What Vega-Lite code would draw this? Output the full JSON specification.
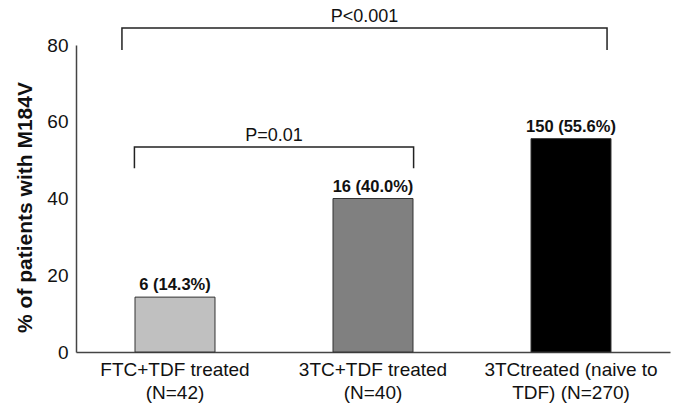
{
  "$schema": "https://vega.github.io/schema/vega-lite/v6.json",
  "width": 594,
  "height": 307,
  "autosize": {"type": "none"},
  "padding": {"left": 76, "top": 45, "right": 4, "bottom": 54},
  "background": "white",
  "config": {
    "font": "Liberation Sans",
    "view": {"stroke": null},
    "axis": {"grid": false, "ticks": false, "domainColor": "#444", "domainWidth": 1.5, "labelColor": "#111", "titleColor": "#111"}
  },
  "datasets": {
    "bars": [
      {"group": "FTC+TDF treated|(N=42)", "pct": 14.3, "label": "6 (14.3%)"},
      {"group": "3TC+TDF treated|(N=40)", "pct": 40.0, "label": "16 (40.0%)"},
      {"group": "3TCtreated (naive to|TDF) (N=270)", "pct": 55.6, "label": "150 (55.6%)"}
    ],
    "brackets": [
      {"bracket": "A", "order": 0, "x": -0.21, "y": 47.9},
      {"bracket": "A", "order": 1, "x": -0.21, "y": 53.4},
      {"bracket": "A", "order": 2, "x": 1.2, "y": 53.4},
      {"bracket": "A", "order": 3, "x": 1.2, "y": 47.9},
      {"bracket": "B", "order": 0, "x": -0.273, "y": 78.7},
      {"bracket": "B", "order": 1, "x": -0.273, "y": 84.4},
      {"bracket": "B", "order": 2, "x": 2.177, "y": 84.4},
      {"bracket": "B", "order": 3, "x": 2.177, "y": 78.7}
    ],
    "pvalues": [
      {"label": "P=0.01", "x": 0.495, "y": 53.4},
      {"label": "P<0.001", "x": 0.952, "y": 84.4}
    ]
  },
  "resolve": {"scale": {"x": "independent"}},
  "layer": [
    {
      "data": {"name": "bars"},
      "encoding": {
        "x": {
          "field": "group", "type": "nominal", "sort": null,
          "scale": {"paddingInner": 0.596, "paddingOuter": 0.298},
          "axis": {"title": null, "labelAngle": 0, "labelFontSize": 19, "labelPadding": 8, "labelLimit": 0, "labelLineHeight": 23, "labelExpr": "split(datum.label, '|')"}
        },
        "y": {
          "field": "pct", "type": "quantitative",
          "scale": {"domain": [0, 80], "nice": false},
          "axis": {"values": [0, 20, 40, 60, 80], "title": "% of patients with M184V", "titleFontSize": 21, "titleFontWeight": "bold", "titlePadding": 11, "titleY": 162, "labelFontSize": 19, "labelPadding": 8}
        }
      },
      "layer": [
        {
          "mark": {"type": "bar", "stroke": "#333", "strokeWidth": 1},
          "encoding": {
            "color": {"field": "group", "type": "nominal", "legend": null,
              "scale": {"domain": ["FTC+TDF treated|(N=42)", "3TC+TDF treated|(N=40)", "3TCtreated (naive to|TDF) (N=270)"], "range": ["#c0c0c0", "#808080", "#000000"]}}
          }
        },
        {
          "mark": {"type": "text", "fontWeight": "bold", "fontSize": 16.5, "baseline": "alphabetic", "dy": -7, "color": "#111"},
          "encoding": {"text": {"field": "label"}}
        }
      ]
    },
    {
      "layer": [
        {
          "data": {"name": "brackets"},
          "mark": {"type": "line", "color": "#222", "strokeWidth": 1.5},
          "encoding": {
            "x": {"field": "x", "type": "quantitative", "scale": {"domain": [-0.50505, 2.49495], "nice": false, "zero": false}, "axis": null},
            "y": {"field": "y", "type": "quantitative", "scale": {"domain": [0, 80], "nice": false}},
            "detail": {"field": "bracket"},
            "order": {"field": "order"}
          }
        },
        {
          "data": {"name": "pvalues"},
          "mark": {"type": "text", "fontSize": 18, "baseline": "alphabetic", "dy": -6, "color": "#111"},
          "encoding": {
            "x": {"field": "x", "type": "quantitative", "scale": {"domain": [-0.50505, 2.49495], "nice": false, "zero": false}, "axis": null},
            "y": {"field": "y", "type": "quantitative", "scale": {"domain": [0, 80], "nice": false}},
            "text": {"field": "label"}
          }
        }
      ]
    }
  ]
}
